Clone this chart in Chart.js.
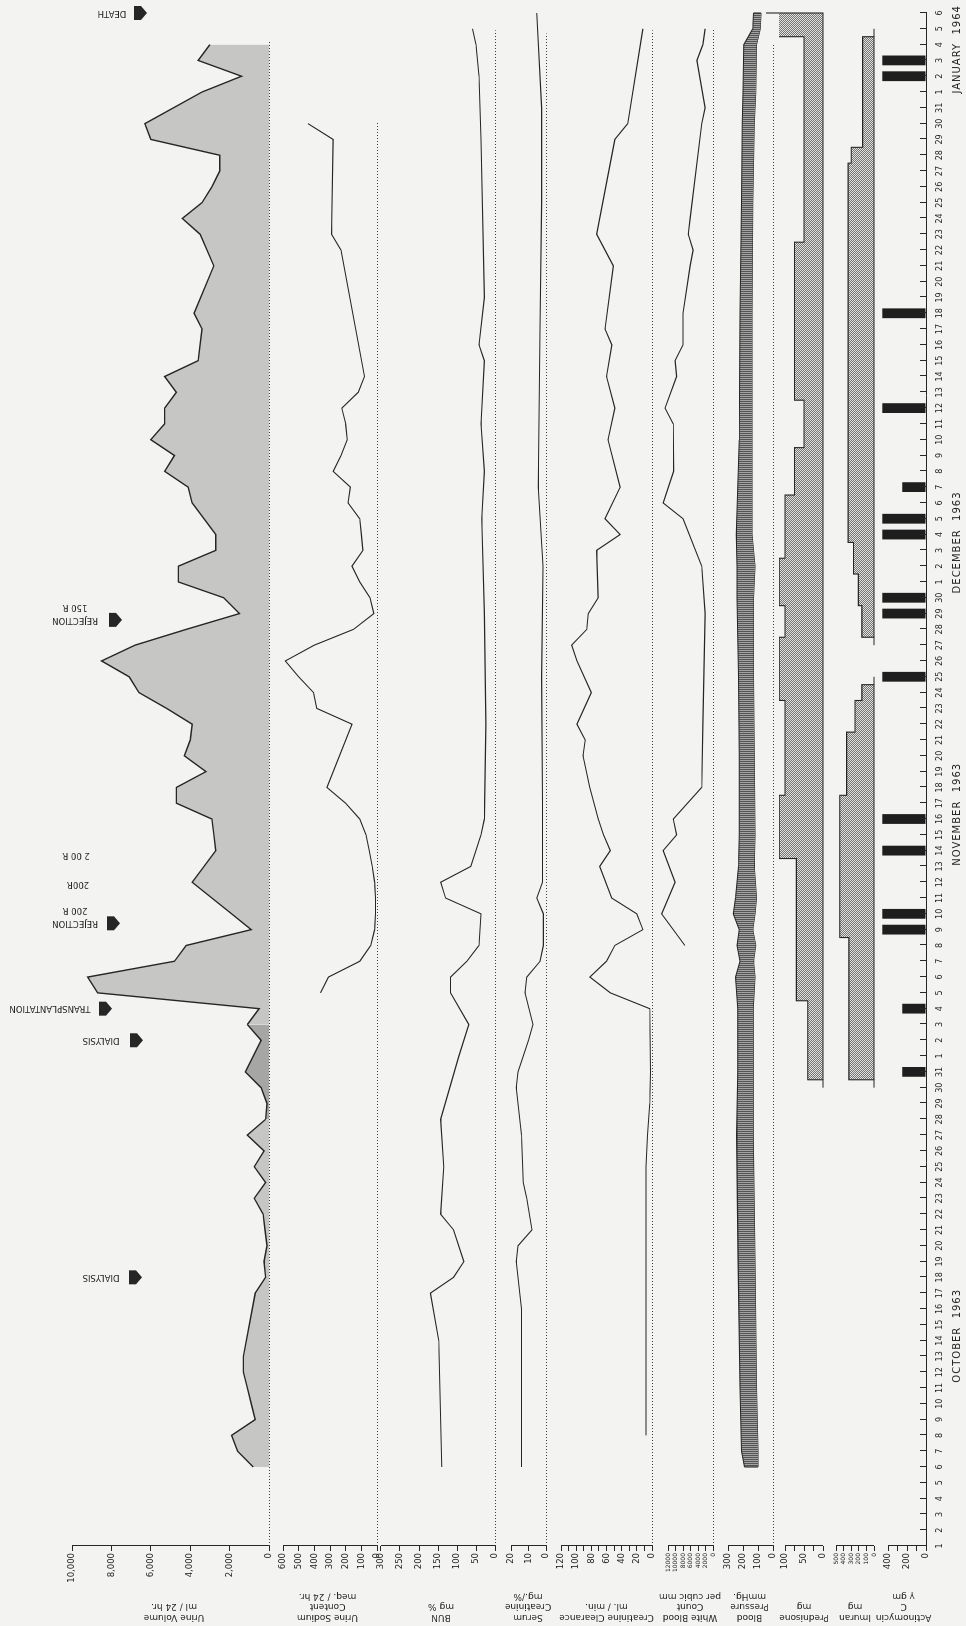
<!DOCTYPE html>
<html>
<head>
<meta charset="utf-8">
<title>Clinical course after renal transplantation, October 1963 - January 1964</title>
<script src="https://cdn.jsdelivr.net/npm/chart.js@4.4.1/dist/chart.umd.min.js"></script>
<style>
  html, body { margin: 0; padding: 0; width: 966px; height: 1626px; overflow: hidden; background: #f3f3f1; }
  /* the chart is laid out landscape and turned a quarter turn, like the printed foldout */
  #turn { position: absolute; left: 0; top: 0; width: 1626px; height: 966px;
          transform-origin: 0 0; transform: translateY(1626px) rotate(-90deg); }
</style>
</head>
<body>
<div id="turn"><canvas id="course" width="1626" height="966"></canvas></div>
<script>
const _ = null;

// ---- days on the time axis (Oct 1 1963 .. Jan 6 1964) ----
const octDays = ['1','2','3','4','5','6','7','8','9','10','11','12','13','14','15','16','17','18','19','20','21','22','23','24','25','26','27','28','29','30','31'];
const novDays = ['1','2','3','4','5','6','7','8','9','10','11','12','13','14','15','16','17','18','19','20','21','22','23','24','25','26','27','28','29','30'];
const decDays = ['1','2','3','4','5','6','7','8','9','10','11','12','13','14','15','16','17','18','19','20','21','22','23','24','25','26','27','28','29','30','31'];
const janDays = ['1','2','3','4','5','6'];
const days = [...octDays, ...novDays, ...decDays, ...janDays];

const monthNames = ['OCTOBER  1963', 'NOVEMBER  1963', 'DECEMBER  1963', 'JANUARY  1964'];
const monthCenters = [13.3, 46.3, 63.5, 94.7];   // day index under which each month name sits

// ---- series, one value per day (null = no reading) ----
const urineVolume = [
  // Oct
  _, _, _, _, _,  800, 1600, 1900, 700, 900,  1100, 1300, 1300, _, _,  _, 700, 170, 250, 100,
  200, 300, 750, 170, 750,  250, 1100, 170, 100, 400,  1200,
  // Nov
  _, 400, 1100, 500, 8700,  9200, 4800, 4200, 900, 1900,  2900, 3900, 3300, 2700, 2800,
  2900, 4700, 4700, 3200, 4300,  4000, 3900, 5200, 6600, 7100,  8500, 6800, 4200, 1500, 2300,
  // Dec
  4600, 4600, 2700, 2700, _,  3900, 4100, 5300, 4800, 6000,  5300, 5300, 4700, 5300, 3600,
  _, 3400, 3800, _, _,  2800, _, 3500, 4400, 3400,  2900, 2500, 2500, 6000, 6300,  _,
  // Jan
  3400, 1400, 3600, 3000, _, _
];

const urineSodium = [
  // Oct
  _, _, _, _, _,  _, _, _, _, _,  _, _, _, _, _,  _, _, _, _, _,  _, _, _, _, _,  _, _, _, _, _,  _,
  // Nov
  _, _, _, _, 360,  310, 110, 40, 15, 10,  10, 15, 30, 50, 70,  110, 200, 320, _, _,
  _, 160, 385, 405, 500,  585, 400, 150, 20, 45,
  // Dec
  110, 160, 90, 100, 110,  185, 170, 280, 230, 190,  200, 225, 120, 80, _,  _, _, _, _, _,
  _, 230, 290, _, _,  _, _, _, 280, 440,  _,
  // Jan
  _, _, _, _, _, _
];

const bun = [
  // Oct
  _, _, _, _, _,  140, _, _, _, _,  _, _, _, 148, _,  _, 170, 109, 82, _,
  109, 143, _, _, 135,  _, _, 143, _, _,  _,
  // Nov
  95, _, 69, _, 117,  117, 74, 42, _, 37,  130, 143, 64, _, 37,  28, _, _, _, _,
  _, 24, _, _, _,  _, _, _, 28, _,
  // Dec
  _, _, _, _, 35,  _, _, 28, _, _,  37, _, _, _, 28,  42, _, _, 28, _,
  _, _, _, _, _,  _, _, _, 37, _,  _,
  // Jan
  _, 42, _, 50, 59, _
];

const serumCreatinine = [
  // Oct
  _, _, _, _, _,  14, _, _, _, _,  _, _, _, _, _,  14, _, _, 17, 16,
  8, _, 11, 13, _,  _, 14, _, _, 17,  16,
  // Nov
  _, 10, 7.4, _, 12,  11, 3.4, 1.5, _, 1.5,  5.3, 2, _, 2, _,  _, 2, _, _, _,
  _, _, _, _, 2.5,  _, _, _, _, _,
  // Dec
  _, 1.7, _, _, _,  _, 4.4, _, _, _,  _, _, _, _, _,  _, 3.4, _, _, _,
  _, _, _, _, 2.5,  _, _, _, _, _,  2.5,
  // Jan
  _, _, _, _, _, 5.3
];

const creatinineClearance = [
  // Oct
  _, _, _, _, _,  _, _, 8, _, _,  _, _, _, _, _,  _, _, _, _, _,
  _, _, _, _, 8,  _, 6, _, 3, _,  2,
  // Nov
  _, _, _, 3, 55,  82, 60, 49, 12, 20,  53, _, 69, 55, 64,  71, _, 82, _, 91,
  88, 99, _, 80, _,  99, 106, 86, 84, 71,
  // Dec
  _, _, 73, 42, 62,  _, 42, _, _, 58,  _, 49, _, 60, _,  53, 62, _, _, _,
  51, _, 73, _, _,  _, _, _, 49, 32,  _,
  // Jan
  _, _, _, _, 12, _
];

const whiteCount = [
  // Oct
  _, _, _, _, _,  _, _, _, _, _,  _, _, _, _, _,  _, _, _, _, _,  _, _, _, _, _,  _, _, _, _, _,  _,
  // Nov
  _, _, _, _, _,  _, _, 7500, _, 13700,  _, 10100, _, 13300, 9700,  10600, _, 3000, _, _,
  _, 2700, _, _, _,  _, _, _, 2100, _,
  // Dec
  _, 3000, _, _, 8000,  13300, _, 10500, _, _,  10600, 12800, _, 9700, 10100,  8000, _, 8000, _, _,
  6100, 5300, 6600, 6100, _,  _, _, _, _, 3000,  2100,
  // Jan
  _, _, 4300, 2700, 2100, _
];

const systolic = [
  // Oct
  _, _, _, _, _,  190, 210, _, _, _,  220, _, _, _, _,  _, _, _, 233, _,
  _, _, _, _, _,  _, 242, _, _, _,  235,
  // Nov
  _, _, _, 235, _,  250, 220, 240, 225, 265,  250, _, 230, _, 225,  _, _, _, _, 225,
  _, _, _, _, 230,  _, _, _, _, 240,
  // Dec
  _, 240, _, 245, _,  _, _, _, _, 225,  _, _, _, _, _,  _, _, 220, _, _,
  _, _, _, _, 210,  _, _, _, _, 205,  _,
  // Jan
  200, _, _, 195, 135, 130
];

const diastolic = [
  // Oct
  _, _, _, _, _,  100, 100, _, _, _,  110, _, _, _, _,  _, _, _, 120, _,
  _, _, _, _, _,  _, 133, _, _, _,  133,
  // Nov
  _, _, _, 133, _,  120, 130, 115, 135, 120,  110, _, 125, _, 120,  _, _, _, _, 125,
  _, _, _, _, 130,  _, _, _, _, 130,
  // Dec
  _, 120, _, 140, _,  _, _, _, _, 140,  _, _, _, _, _,  _, _, 140, _, _,
  _, _, _, _, 135,  _, _, _, _, 125,  _,
  // Jan
  115, _, _, 110, 85, 80
];

const prednisone = [
  // Oct
  _, _, _, _, _,  _, _, _, _, _,  _, _, _, _, _,  _, _, _, _, _,  _, _, _, _, _,  _, _, _, _, 0,  40,
  // Nov
  40, 40, 40, 40, 70,  70, 70, 70, 70, 70,  70, 70, 70, 115, 115,  115, 115, 100, 100, 100,
  100, 100, 100, 115, 115,  115, 115, 100, 100, 115,
  // Dec
  115, 115, 100, 100, 100,  100, 75, 75, 75, 50,  50, 50, 75, 75, 75,  75, 75, 75, 75, 75,
  75, 75, 50, 50, 50,  50, 50, 50, 50, 50,  50,
  // Jan
  50, 50, 50, 50, 150, 150
];

const imuran = [
  // Oct
  _, _, _, _, _,  _, _, _, _, _,  _, _, _, _, _,  _, _, _, _, _,  _, _, _, _, _,  _, _, _, _, 0,  330,
  // Nov
  330, 330, 330, 330, 330,  330, 330, 330, 450, 450,  450, 450, 450, 450, 450,  450, 450, 360, 360, 360,
  360, 250, 250, 160, 0,  0, 0, 160, 160, 205,
  // Dec
  205, 270, 270, 340, 340,  340, 340, 340, 340, 340,  340, 340, 340, 340, 340,  340, 340, 340, 340, 340,
  340, 340, 340, 340, 340,  340, 340, 300, 150, 150,  150,
  // Jan
  150, 150, 150, 150, 0, _
];

const actinomycin = [
  // Oct
  _, _, _, _, _,  _, _, _, _, _,  _, _, _, _, _,  _, _, _, _, _,  _, _, _, _, _,  _, _, _, _, _,  250,
  // Nov
  _, _, _, 250, _,  _, _, _, 460, 460,  _, _, _, 460, _,  460, _, _, _, _,
  _, _, _, _, 460,  _, _, _, 460, 460,
  // Dec
  _, _, _, 460, 460,  _, 250, _, _, _,  _, 460, _, _, _,  _, _, 460, _, _,
  _, _, _, _, _,  _, _, _, _, _,  _,
  // Jan
  _, 460, 460, _, _, _
];

// ---- tick values and labels of each panel axis ----
const urineTicks = [0, 2000, 4000, 6000, 8000, 10000];
const urineTickLabels = ['0', '2,000', '4,000', '6,000', '8,000', '10,000'];
const sodiumTicks = [0, 100, 200, 300, 400, 500, 600];
const sodiumTickLabels = ['0', '100', '200', '300', '400', '500', '600'];
const bunTicks = [0, 50, 100, 150, 200, 250, 300];
const bunTickLabels = ['0', '50', '100', '150', '200', '250', '300'];
const creatTicks = [0, 10, 20];
const creatTickLabels = ['0', '10', '20'];
const clearanceTicks = [0, 10, 20, 30, 40, 50, 60, 70, 80, 90, 100, 110, 120];
const clearanceTickLabels = ['0', '', '20', '', '40', '', '60', '', '80', '', '100', '', '120'];
const wbcTicks = [0, 2000, 4000, 6000, 8000, 10000, 12000];
const wbcTickLabels = ['0', '2000', '4000', '6000', '8000', '10000', '12000'];
const bpTicks = [0, 100, 200, 300];
const bpTickLabels = ['0', '100', '200', '300'];
const predTicks = [0, 25, 50, 75, 100];
const predTickLabels = ['0', '', '50', '', '100'];
const imuranTicks = [0, 100, 200, 300, 400, 500];
const imuranTickLabels = ['0', '100', '200', '300', '400', '500'];
const actinoTicks = [0, 100, 200, 300, 400];
const actinoTickLabels = ['0', '', '200', '', '400'];

// ---- layout (landscape pixels: top of panel tick, zero, and the band each panel owns) ----
const INK = '#262626';
const FONT = "'DejaVu Sans', 'Liberation Sans', sans-serif";
const panels = [
  {id: 'yUrine',  top: 10000, topPx: 72,  zeroPx: 269, boxTop: 72,  boxBottom: 276, ticks: urineTicks, labels: urineTickLabels, title: ['Urine Volume', 'ml / 24 hr.']},
  {id: 'ySodium', top: 600,   topPx: 283, zeroPx: 377, boxTop: 276, boxBottom: 379, ticks: sodiumTicks, labels: sodiumTickLabels, title: ['Urine Sodium', 'Content', 'meq. / 24 hr.']},
  {id: 'yBun',    top: 300,   topPx: 381, zeroPx: 495, boxTop: 379, boxBottom: 503, ticks: bunTicks, labels: bunTickLabels, title: ['BUN', 'mg %']},
  {id: 'yCreat',  top: 20,    topPx: 511, zeroPx: 546, boxTop: 503, boxBottom: 553, ticks: creatTicks, labels: creatTickLabels, title: ['Serum', 'Creatinine', 'mg./%']},
  {id: 'yClear',  top: 120,   topPx: 561, zeroPx: 652, boxTop: 553, boxBottom: 660, ticks: clearanceTicks, labels: clearanceTickLabels, title: ['Creatinine Clearance', 'ml. / min.']},
  {id: 'yWbc',    top: 12000, topPx: 668, zeroPx: 713, boxTop: 660, boxBottom: 720, ticks: wbcTicks, labels: wbcTickLabels, title: ['White Blood', 'Count', 'per cubic mm'], tickFont: 6},
  {id: 'yBP',     top: 300,   topPx: 728, zeroPx: 773, boxTop: 720, boxBottom: 779, ticks: bpTicks, labels: bpTickLabels, title: ['Blood', 'Pressure', 'mmHg.']},
  {id: 'yPred',   top: 100,   topPx: 785, zeroPx: 823, boxTop: 779, boxBottom: 829, ticks: predTicks, labels: predTickLabels, title: ['Prednisone', 'mg']},
  {id: 'yImuran', top: 500,   topPx: 836, zeroPx: 874, boxTop: 829, boxBottom: 881, ticks: imuranTicks, labels: imuranTickLabels, title: ['Imuran', 'mg'], tickFont: 6},
  {id: 'yActino', top: 400,   topPx: 888, zeroPx: 926, boxTop: 881, boxBottom: 926, ticks: actinoTicks, labels: actinoTickLabels, title: ['Actinomycin', 'C', 'γ gm']}
];

// dotted zero lines and how far up the time axis they run
const zeroLineAxes = ['yUrine', 'ySodium', 'yBun', 'yCreat', 'yClear', 'yWbc', 'yBP'];
const zeroLineEnds = [95.2, 90.1, 95.9, 95.7, 95.9, 96, 95];

// arrows and notes over the urine panel (day index, landscape y of arrow tip and text centre)
const notes = [
  {day: 17,   lines: ['DIALYSIS'],           tip: 142, mid: 101},
  {day: 32,   lines: ['DIALYSIS'],           tip: 143, mid: 101},
  {day: 34,   lines: ['TRANSPLANTATION'],    tip: 112, mid: 50},
  {day: 39.4, lines: ['REJECTION', '200 R'], tip: 120, mid: 75},
  {day: 41.9, lines: ['200R'],               tip: null, mid: 78},
  {day: 43.7, lines: ['2 00 R'],             tip: null, mid: 76},
  {day: 58.6, lines: ['REJECTION', '150 R'], tip: 122, mid: 75},
  {day: 97,   lines: ['DEATH'],              tip: 147, mid: 112}
];

const canvas = document.getElementById('course');
const ctx2d = canvas.getContext('2d');

function makePattern(w, h, paint) {
  const c = document.createElement('canvas');
  c.width = w; c.height = h;
  paint(c.getContext('2d'));
  return ctx2d.createPattern(c, 'repeat');
}
// fine cross hatch of the dose boxes
const hatch = makePattern(2, 2, g => {
  g.fillStyle = '#e2e2e0'; g.fillRect(0, 0, 2, 2);
  g.fillStyle = '#747474'; g.fillRect(0, 0, 1, 1); g.fillRect(1, 1, 1, 1);
});
// ruled band of the blood pressure
const ruled = makePattern(2, 1, g => {
  g.fillStyle = '#555555'; g.fillRect(0, 0, 1, 1);
  g.fillStyle = '#a2a2a2'; g.fillRect(1, 0, 1, 1);
});

function panelAxis(p, order) {
  const perUnit = (p.zeroPx - p.topPx) / p.top;
  return {
    type: 'linear',
    position: 'left',
    stack: 'panels',
    stackWeight: p.boxBottom - p.boxTop,
    weight: order,
    bounds: 'data',
    min: -(p.boxBottom - p.zeroPx) / perUnit,
    max: p.top + (p.topPx - p.boxTop) / perUnit,
    afterBuildTicks: s => { s.ticks = p.ticks.map(v => ({value: v})); },
    afterFit: s => { s.width = 80; },
    grid: {drawOnChartArea: false, drawTicks: true, tickLength: 5, color: INK, lineWidth: 1},
    border: {display: false},
    ticks: {
      autoSkip: false, padding: 2, color: INK,
      font: {family: FONT, size: p.tickFont || 8.5},
      callback: (v, i) => p.labels[i]
    },
    title: {display: true, text: p.title, color: INK, font: {family: FONT, size: 9}, padding: {top: 3, bottom: 3}}
  };
}

const scales = {
  x: {
    type: 'category',
    offset: false,
    afterFit: s => { s.height = 40; },
    grid: {display: true, drawOnChartArea: false, drawTicks: false, offset: false},
    border: {display: true, color: INK, width: 1},
    ticks: {autoSkip: false, maxRotation: 0, minRotation: 0, padding: 9, color: INK, font: {family: FONT, size: 8}}
  }
};
panels.forEach((p, k) => { scales[p.id] = panelAxis(p, panels.length - k); });

function drawArrow(ctx, x, tip) {
  ctx.beginPath();
  ctx.moveTo(x - 7, tip - 13);
  ctx.lineTo(x + 7, tip - 13);
  ctx.lineTo(x + 7, tip - 6);
  ctx.lineTo(x, tip);
  ctx.lineTo(x - 7, tip - 6);
  ctx.closePath();
  ctx.fill();
}

const decor = {
  id: 'decor',
  afterDatasetsDraw(chart) {
    const {ctx, scales: sc, chartArea} = chart;
    const xs = sc.x;
    ctx.save();

    // dotted zero lines
    ctx.strokeStyle = '#3c3c3c';
    ctx.lineWidth = 1;
    ctx.setLineDash([1, 2]);
    zeroLineAxes.forEach((id, k) => {
      const y = Math.round(sc[id].getPixelForValue(0)) + 0.5;
      ctx.beginPath();
      ctx.moveTo(chartArea.left, y);
      ctx.lineTo(xs.getPixelForValue(zeroLineEnds[k]), y);
      ctx.stroke();
    });
    ctx.setLineDash([]);

    // closing edge of the dose boxes along their zero
    ctx.strokeStyle = INK;
    ctx.lineWidth = 1.1;
    [[prednisone, 'yPred'], [imuran, 'yImuran']].forEach(([vals, id]) => {
      const ys = sc[id];
      const y0 = ys.getPixelForValue(0);
      const last = vals.length - 1;
      let i = 0;
      while (i <= last) {
        if (vals[i] > 0) {
          let j = i;
          while (j < last && vals[j + 1] > 0) j++;
          const xa = xs.getPixelForValue(Math.max(i - 0.5, 0));
          const xb = xs.getPixelForValue(Math.min(j + 0.5, last));
          ctx.beginPath();
          ctx.moveTo(xa, y0);
          ctx.lineTo(xb, y0);
          if (j === last) ctx.lineTo(xb, ys.getPixelForValue(vals[j]));
          ctx.stroke();
          i = j + 1;
        } else {
          i++;
        }
      }
    });

    // ends of the blood pressure band
    const bp = sc.yBP;
    const filled = systolic.map((v, i) => v === null ? -1 : i).filter(i => i >= 0);
    [filled[0], filled[filled.length - 1]].forEach(i => {
      const x = xs.getPixelForValue(i);
      ctx.beginPath();
      ctx.moveTo(x, bp.getPixelForValue(systolic[i]));
      ctx.lineTo(x, bp.getPixelForValue(diastolic[i]));
      ctx.stroke();
    });
    ctx.restore();
  },
  afterDraw(chart) {
    const {ctx, scales: sc, chartArea} = chart;
    const xs = sc.x;
    ctx.save();
    ctx.strokeStyle = INK;
    ctx.fillStyle = INK;
    ctx.lineWidth = 1;

    // the bracket of each panel axis, from its top tick to zero
    panels.forEach(p => {
      const s = sc[p.id];
      const x = Math.round(s.right) + 0.5;
      ctx.beginPath();
      ctx.moveTo(x, s.getPixelForValue(p.ticks[p.ticks.length - 1]));
      ctx.lineTo(x, s.getPixelForValue(0));
      ctx.stroke();
    });

    // day ticks, turned inwards
    for (let i = 0; i < days.length; i++) {
      const x = Math.round(xs.getPixelForValue(i)) + 0.5;
      ctx.beginPath();
      ctx.moveTo(x, chartArea.bottom);
      ctx.lineTo(x, chartArea.bottom - 6);
      ctx.stroke();
    }

    // month names
    ctx.font = '10px ' + FONT;
    ctx.textAlign = 'center';
    ctx.textBaseline = 'middle';
    if ('letterSpacing' in ctx) ctx.letterSpacing = '1px';
    monthNames.forEach((m, k) => ctx.fillText(m, xs.getPixelForValue(monthCenters[k]), 957));
    if ('letterSpacing' in ctx) ctx.letterSpacing = '0px';

    // arrows and notes
    ctx.font = '8.5px ' + FONT;
    notes.forEach(n => {
      const x = xs.getPixelForValue(n.day);
      if (n.tip !== null) drawArrow(ctx, x, n.tip);
      ctx.save();
      ctx.translate(x, n.mid);
      ctx.rotate(-Math.PI / 2);
      n.lines.forEach((ln, i) => ctx.fillText(ln, 0, i * 13));
      ctx.restore();
    });
    ctx.restore();
  }
};

Chart.defaults.font.family = FONT;
Chart.defaults.color = INK;

new Chart(canvas, {
  type: 'line',
  data: {
    labels: days,
    datasets: [
      {
        label: 'Urine volume', data: urineVolume, yAxisID: 'yUrine',
        borderColor: INK, borderWidth: 1.4, backgroundColor: '#c6c6c5', fill: 'origin', spanGaps: true,
        segment: { backgroundColor: c => (c.p0DataIndex >= 27 && c.p1DataIndex <= 33) ? '#a6a6a5' : undefined }
      },
      { label: 'Urine sodium', data: urineSodium, yAxisID: 'ySodium', borderColor: INK, borderWidth: 1.1, fill: false, spanGaps: true },
      { label: 'BUN', data: bun, yAxisID: 'yBun', borderColor: INK, borderWidth: 1.1, fill: false, spanGaps: true },
      { label: 'Serum creatinine', data: serumCreatinine, yAxisID: 'yCreat', borderColor: INK, borderWidth: 1.1, fill: false, spanGaps: true },
      { label: 'Creatinine clearance', data: creatinineClearance, yAxisID: 'yClear', borderColor: INK, borderWidth: 1.1, fill: false, spanGaps: true },
      { label: 'White blood count', data: whiteCount, yAxisID: 'yWbc', borderColor: INK, borderWidth: 1.1, fill: false, spanGaps: true },
      { label: 'Systolic', data: systolic, yAxisID: 'yBP', borderColor: INK, borderWidth: 1.2, backgroundColor: ruled, fill: '+1', spanGaps: true },
      { label: 'Diastolic', data: diastolic, yAxisID: 'yBP', borderColor: INK, borderWidth: 1.2, fill: false, spanGaps: true },
      {
        label: 'Prednisone', data: prednisone, yAxisID: 'yPred', stepped: 'middle',
        borderColor: INK, borderWidth: 1.1, backgroundColor: hatch, fill: 'origin',
        segment: { borderColor: c => (c.p0.parsed.y === 0 && c.p1.parsed.y === 0) ? 'rgba(0,0,0,0)' : undefined }
      },
      {
        label: 'Imuran', data: imuran, yAxisID: 'yImuran', stepped: 'middle',
        borderColor: INK, borderWidth: 1.1, backgroundColor: hatch, fill: 'origin',
        segment: { borderColor: c => (c.p0.parsed.y === 0 && c.p1.parsed.y === 0) ? 'rgba(0,0,0,0)' : undefined }
      },
      {
        type: 'bar', label: 'Actinomycin C', data: actinomycin, yAxisID: 'yActino',
        backgroundColor: '#1e1e1e', borderWidth: 0, barPercentage: 0.62, categoryPercentage: 1
      }
    ]
  },
  options: {
    responsive: false,
    animation: false,
    devicePixelRatio: 1,
    layout: { padding: { top: 72, right: 13, bottom: 0, left: 0 } },
    elements: { point: { radius: 0, hoverRadius: 0 }, line: { tension: 0 } },
    plugins: { legend: { display: false }, tooltip: { enabled: false } },
    scales: scales
  },
  plugins: [decor]
});
</script>
</body>
</html>
